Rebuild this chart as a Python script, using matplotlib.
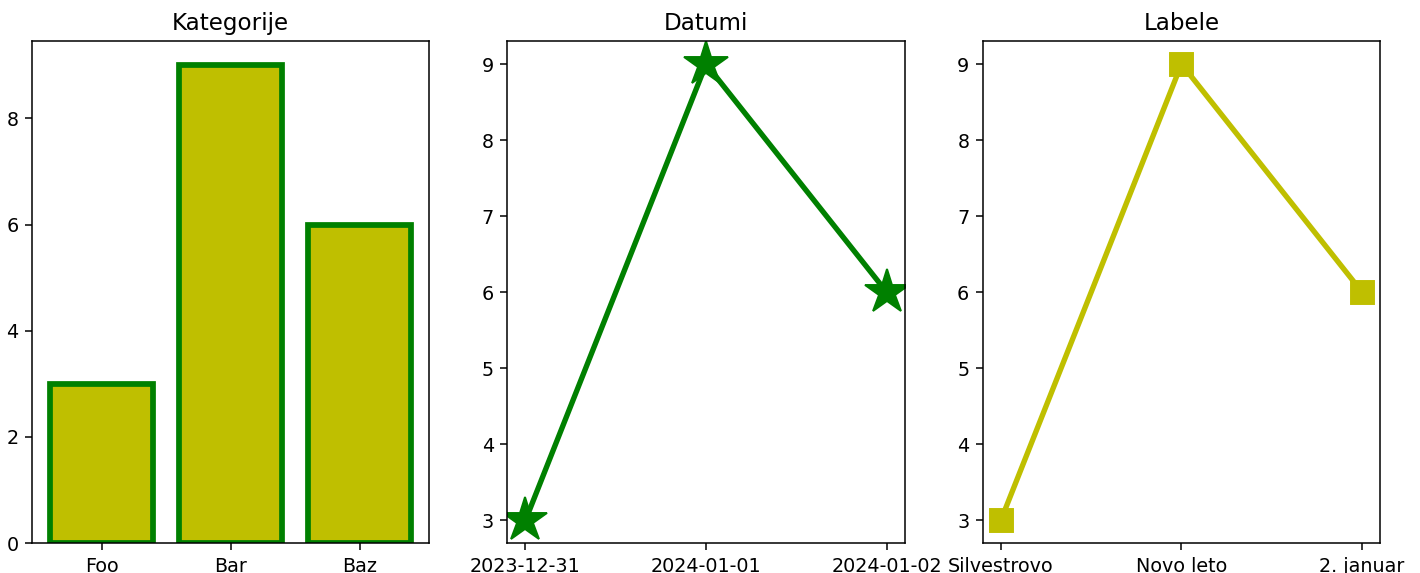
import matplotlib
matplotlib.use("Agg")
import matplotlib.pyplot as plt
import matplotlib.dates as mdates
import datetime

kategorije = ["Foo", "Bar", "Baz"]
vrednosti = [3, 9, 6]
datumi = [datetime.date(2023, 12, 31), datetime.date(2024, 1, 1), datetime.date(2024, 1, 2)]
labele = ["Silvestrovo", "Novo leto", "2. januar"]

DPI = 138
fig, axs = plt.subplots(1, 3, figsize=(1420 / DPI, 573 / DPI), dpi=DPI)
fig.subplots_adjust(left=0.0225, right=0.972, top=0.928, bottom=0.052, wspace=0.196)

# stolpci
axs[0].bar(kategorije, vrednosti, color="y", edgecolor="g", linewidth=3)
axs[0].set_title("Kategorije")

# datumi
axs[1].plot(datumi, vrednosti, color="g", marker="*", markersize=24, linewidth=2.8)
axs[1].xaxis.set_major_locator(mdates.DayLocator())
axs[1].xaxis.set_major_formatter(mdates.DateFormatter("%Y-%m-%d"))
axs[1].set_title("Datumi")

# labele
axs[2].plot(labele, vrednosti, color="y", marker="s", markersize=12, linewidth=2.8)
axs[2].set_title("Labele")

fig.savefig("out.png", dpi=DPI)
